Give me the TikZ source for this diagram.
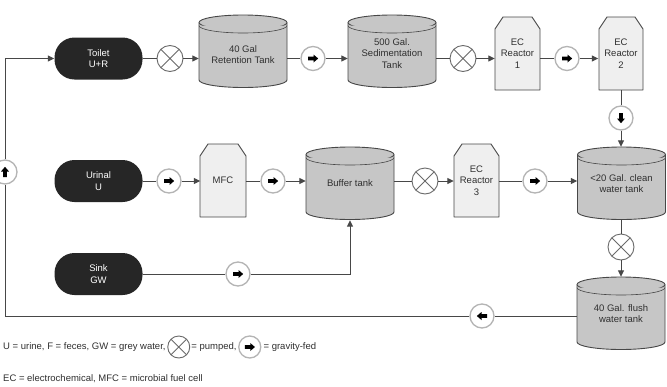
\documentclass[tikz,border=0pt]{standalone}
\usepackage{fontspec}
\setmainfont{Liberation Sans}
\usetikzlibrary{arrows.meta}
\definecolor{pillc}{HTML}{262626}
\definecolor{tankc}{HTML}{C6C6C6}
\definecolor{ecc}{HTML}{EFEFEF}
\definecolor{linec}{HTML}{474747}
\definecolor{ringc}{HTML}{B4B4B4}
\definecolor{crossc}{HTML}{6A6A6A}
\definecolor{textc}{HTML}{303030}

\newcommand\tankdraw[2]{% cx, ytop
  \begin{scope}[shift={(#1,-#2)}]
    \filldraw[tankbody] (-44,-7.5) -- (-44,-65)
      arc[start angle=180,end angle=360,x radius=44pt,y radius=7.5pt]
      -- (44,-7.5)
      arc[start angle=0,end angle=180,x radius=44pt,y radius=7.5pt] -- cycle;
    \draw[tankbody] (-44,-7.5) arc[start angle=180,end angle=360,x radius=44pt,y radius=7.5pt];
    \draw[tankbody,line width=0.6pt] (-44,-10.5) arc[start angle=180,end angle=360,x radius=44pt,y radius=7.5pt];
  \end{scope}}
\newcommand\ecdraw[4]{% x1, ytop, x2, ybot
  \filldraw[ecbody] (#1,-#4) -- (#1,-#2-12) -- (#1+8,-#2) -- (#3-8,-#2) -- (#3,-#2-12) -- (#3,-#4) -- cycle;}
\newcommand\garrow[2]{% node name, angle
  \begin{scope}[shift={(#1.center)}]
    \fill[black, rotate=#2]
      (-5,-1.9) -- (0.5,-1.9) -- (0.5,-4) -- (5.2,0) -- (0.5,4) -- (0.5,1.9) -- (-5,1.9) -- cycle;
  \end{scope}}

\tikzset{
  lbl/.style={font=\fontsize{9.5}{11.5}\selectfont, text=textc, align=center, inner sep=0pt},
  pillbox/.style={rectangle, rounded corners=20pt, fill=pillc, text=white,
    font=\fontsize{9.5}{11.5}\selectfont, align=center, minimum width=88pt, minimum height=42pt, inner sep=0pt},
  tankbody/.style={draw=linec, fill=tankc, line width=0.9pt},
  ecbody/.style={draw=linec, fill=ecc, line width=0.9pt, line join=round},
  tanknode/.style={lbl, minimum width=88pt, minimum height=73pt},
  ecnode/.style={lbl, minimum width=45pt, minimum height=73pt},
  pump/.style={circle, draw=crossc, fill=white, line width=0.9pt, minimum size=26pt, inner sep=0pt,
    path picture={\draw[crossc, line width=0.9pt]
      (path picture bounding box.north west) -- (path picture bounding box.south east)
      (path picture bounding box.north east) -- (path picture bounding box.south west);}},
  gravity/.style={circle, draw=ringc, fill=white, line width=1.3pt, minimum size=24pt, inner sep=0pt},
  conn/.style={draw=linec, line width=1pt},
  flow/.style={conn, -{Triangle[length=6.5pt,width=6pt]}},
  legtext/.style={font=\fontsize{9.5}{11.5}\selectfont, text=textc, inner sep=0pt, anchor=west}
}

\begin{document}
\begin{tikzpicture}[x=1pt,y=1pt]
\fill[white] (0,0) rectangle (667,-386);
\useasboundingbox (0,0) rectangle (667,-386);

% ---- shapes drawn first
\tankdraw{243}{15}
\tankdraw{392}{15}
\tankdraw{350}{147}
\tankdraw{621.5}{147}
\tankdraw{621}{277}
\ecdraw{495}{17}{540}{90}
\ecdraw{599}{17}{643}{90}
\ecdraw{200}{144}{246}{217}
\ecdraw{454}{144}{499}{217}

% ---- named nodes
\node[pillbox] (toilet) at (98.5,-58.5) {Toilet\\U+R};
\node[pillbox] (urinal) at (98.5,-181) {Urinal\\U};
\node[pillbox] (sink) at (98.5,-274) {Sink\\GW};

\node[tanknode] (ret) at (243,-54.5) {40 Gal\\Retention Tank};
\node[tanknode] (sed) at (392,-53.5) {500 Gal.\\Sedimentation\\Tank};
\node[tanknode] (buffer) at (350,-183.5) {Buffer tank};
\node[tanknode] (clean) at (621.5,-183.5) {<20 Gal. clean\\water tank};
\node[tanknode] (flush) at (621,-313.5) {40 Gal. flush\\water tank};

\node[ecnode] (ec1) at (517.5,-53.5) {EC\\Reactor\\1};
\node[ecnode] (ec2) at (621,-53.5) {EC\\Reactor\\2};
\node[ecnode] (mfc) at (223,-180.5) {MFC};
\node[ecnode] (ec3) at (476.5,-180.5) {EC\\Reactor\\3};

\node[pump] (p1) at (170,-58.5) {};
\node[gravity] (g1) at (313,-58.5) {};
\node[pump] (p2) at (463,-58.5) {};
\node[gravity] (g2) at (567,-58.5) {};
\node[gravity] (g3) at (621,-118) {};
\node[pump] (p4) at (621,-247) {};
\node[gravity] (g6) at (482,-316) {};
\node[gravity] (g7) at (5,-172) {};

\node[gravity] (g4) at (169,-181) {};
\node[gravity] (g5) at (273,-181) {};
\node[pump] (p3) at (425,-181) {};
\node[gravity] (g8) at (535,-181) {};
\node[gravity] (g9) at (238,-274) {};

\garrow{g1}{0}
\garrow{g2}{0}
\garrow{g3}{-90}
\garrow{g4}{0}
\garrow{g5}{0}
\garrow{g6}{180}
\garrow{g7}{90}
\garrow{g8}{0}
\garrow{g9}{0}

\coordinate (cbl) at (5,-316);
\coordinate (ctl) at (5,-58.5);
\coordinate (sinkturn) at (350,-274);

% ---- connectors
\draw[conn] (toilet) -- (p1);
\draw[flow] (p1) -- (p1 -| ret.west);
\draw[conn] (g1 -| ret.east) -- (g1);
\draw[flow] (g1) -- (g1 -| sed.west);
\draw[conn] (p2 -| sed.east) -- (p2);
\draw[flow] (p2) -- (p2 -| ec1.west);
\draw[conn] (g2 -| ec1.east) -- (g2);
\draw[flow] (g2) -- (g2 -| ec2.west);
\draw[conn] (g3 |- ec2.south) -- (g3);
\draw[flow] (g3) -- (g3 |- clean.north);
\draw[conn] (p4 |- clean.south) -- (p4);
\draw[flow] (p4) -- (p4 |- flush.north);
\draw[conn] (g6 -| flush.west) -- (g6);
\draw[conn] (g6) -- (cbl) -- (g7);
\draw[flow] (g7) -- (ctl) -- (toilet);

\draw[conn] (urinal) -- (g4);
\draw[flow] (g4) -- (g4 -| mfc.west);
\draw[conn] (g5 -| mfc.east) -- (g5);
\draw[flow] (g5) -- (g5 -| buffer.west);
\draw[conn] (p3 -| buffer.east) -- (p3);
\draw[flow] (p3) -- (p3 -| ec3.west);
\draw[conn] (g8 -| ec3.east) -- (g8);
\draw[flow] (g8) -- (g8 -| clean.west);

\draw[conn] (sink) -- (g9);
\draw[flow] (g9) -- (sinkturn) -- (buffer.south);

% ---- legend
\node[legtext] (leg1) at (3,-347) {U = urine, F = feces, GW = grey water,};
\node[pump, minimum size=22pt] (legp) at ([xshift=13pt]leg1.east) {};
\node[legtext] (leg2) at ([xshift=1pt]legp.east) {= pumped,};
\node[gravity, minimum size=22pt] (legg) at ([xshift=13pt]leg2.east) {};
\garrow{legg}{0}
\node[legtext] (leg3) at ([xshift=2pt]legg.east) {= gravity-fed};
\node[legtext] (leg4) at (3,-379) {EC = electrochemical, MFC = microbial fuel cell};
\end{tikzpicture}
\end{document}
